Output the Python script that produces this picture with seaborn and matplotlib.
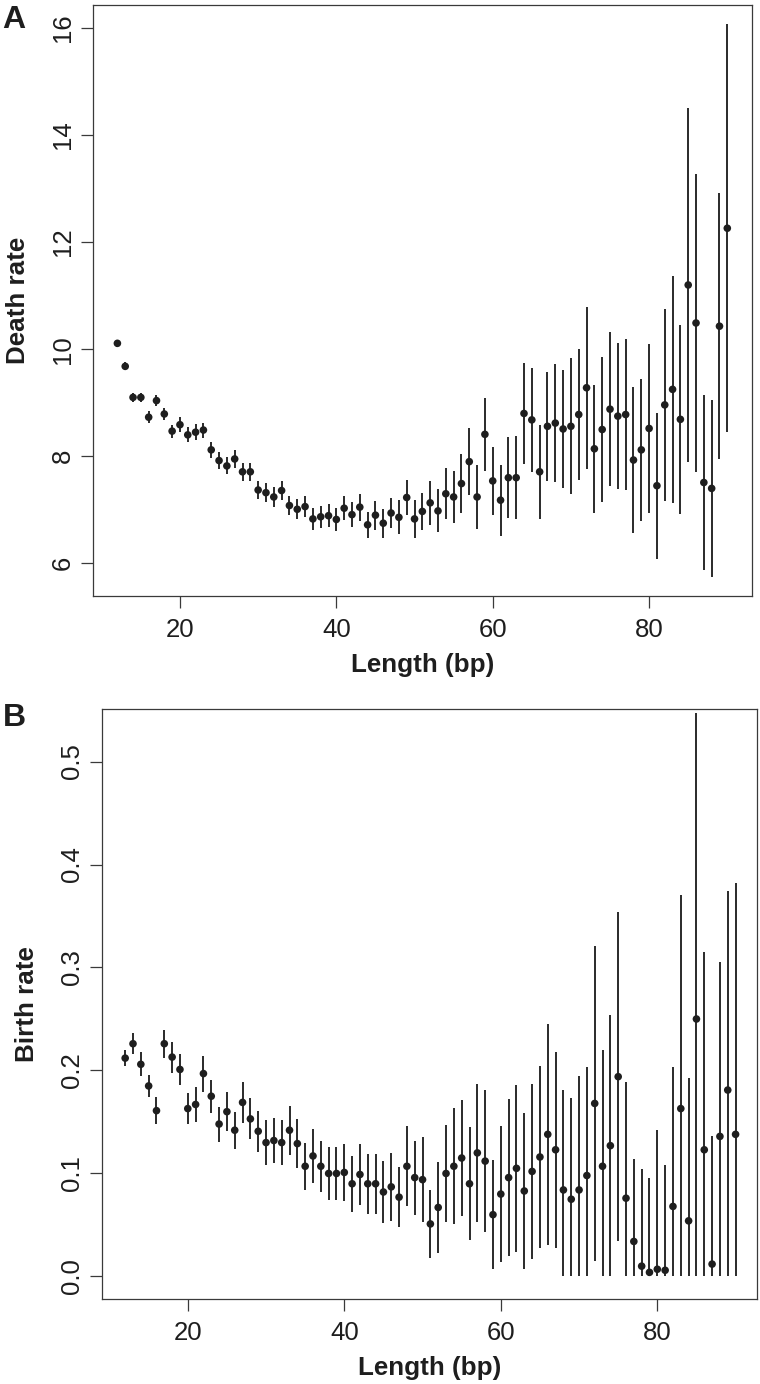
import numpy as np
import pandas as pd
import matplotlib
matplotlib.use("Agg")
import matplotlib.pyplot as plt
import seaborn as sns

# ---------------- data ----------------
length = list(range(12, 91))

death_rate = [10.11, 9.68, 9.10, 9.10, 8.73, 9.04, 8.79, 8.47, 8.59, 8.40,
              8.45, 8.49, 8.12, 7.92, 7.82, 7.95, 7.71, 7.71, 7.37, 7.32,
              7.24, 7.36, 7.08, 7.01, 7.06, 6.83, 6.87, 6.89, 6.82, 7.03,
              6.91, 7.05, 6.72, 6.90, 6.75, 6.94, 6.86, 7.23, 6.83, 6.97,
              7.13, 6.98, 7.30, 7.24, 7.49, 7.90, 7.24, 8.41, 7.54, 7.18,
              7.60, 7.60, 8.80, 8.68, 7.71, 8.56, 8.62, 8.51, 8.56, 8.78,
              9.28, 8.14, 8.50, 8.88, 8.75, 8.78, 7.93, 8.12, 8.52, 7.45,
              8.96, 9.25, 8.69, 11.20, 10.49, 7.51, 7.40, 10.43, 12.26]

death_err = [0.06, 0.075, 0.09, 0.09, 0.11, 0.11, 0.115, 0.12, 0.14, 0.14,
             0.15, 0.14, 0.15, 0.16, 0.16, 0.16, 0.17, 0.17, 0.175, 0.175,
             0.18, 0.18, 0.18, 0.19, 0.20, 0.20, 0.21, 0.21, 0.21, 0.22,
             0.24, 0.25, 0.24, 0.27, 0.27, 0.28, 0.32, 0.32, 0.35, 0.35,
             0.41, 0.40, 0.48, 0.48, 0.55, 0.62, 0.59, 0.68, 0.64, 0.66,
             0.76, 0.77, 0.95, 0.97, 0.88, 1.02, 1.10, 1.10, 1.27, 1.22,
             1.51, 1.20, 1.35, 1.44, 1.36, 1.41, 1.37, 1.33, 1.58, 1.36,
             1.79, 2.12, 1.76, 3.31, 2.79, 1.63, 1.65, 2.49, 3.81]

birth_rate = [0.212, 0.226, 0.206, 0.185, 0.161, 0.226, 0.213, 0.201, 0.163, 0.167,
              0.197, 0.175, 0.148, 0.160, 0.142, 0.169, 0.153, 0.141, 0.130, 0.132,
              0.130, 0.142, 0.129, 0.107, 0.117, 0.107, 0.100, 0.100, 0.101, 0.090,
              0.099, 0.090, 0.090, 0.082, 0.087, 0.077, 0.107, 0.096, 0.094, 0.051,
              0.067, 0.100, 0.107, 0.115, 0.090, 0.120, 0.112, 0.060, 0.080, 0.096,
              0.105, 0.083, 0.102, 0.116, 0.138, 0.123, 0.084, 0.075, 0.084, 0.098,
              0.168, 0.107, 0.127, 0.194, 0.076, 0.034, 0.010, 0.004, 0.007, 0.006,
              0.068, 0.163, 0.054, 0.250, 0.123, 0.012, 0.136, 0.181, 0.138]

birth_err = [0.0076, 0.010, 0.0115, 0.011, 0.0128, 0.0136, 0.015, 0.015, 0.015, 0.017,
             0.0175, 0.016, 0.017, 0.019, 0.018, 0.020, 0.020, 0.020, 0.022, 0.022,
             0.022, 0.024, 0.024, 0.023, 0.026, 0.025, 0.026, 0.026, 0.028, 0.027,
             0.030, 0.029, 0.029, 0.030, 0.033, 0.029, 0.039, 0.036, 0.041, 0.033,
             0.0445, 0.047, 0.0565, 0.056, 0.055, 0.067, 0.069, 0.053, 0.066, 0.076,
             0.081, 0.076, 0.085, 0.088, 0.107, 0.095, 0.097, 0.098, 0.111, 0.105,
             0.153, 0.113, 0.127, 0.160, 0.1125, 0.080, 0.0945, 0.092, 0.1355, 0.1026,
             0.135, 0.207, 0.139, 0.2976, 0.192, 0.124, 0.169, 0.1935, 0.2445]

x_ticks = [20, 40, 60, 80]
death_ticks = [6, 8, 10, 12, 14, 16]
birth_ticks = [0.0, 0.1, 0.2, 0.3, 0.4, 0.5]
birth_ticklabels = ["0.0", "0.1", "0.2", "0.3", "0.4", "0.5"]

# ---------------- style ----------------
sns.set_theme(style="ticks")
plt.rcParams["font.family"] = ["Liberation Sans", "DejaVu Sans"]

INK = "#1e1e1e"
BAR = "#2a2a2a"
SPINE = "#3a3a3a"

fig = plt.figure(figsize=(7.6, 13.84), dpi=100)
W, H = 760.0, 1384.0

def axes_px(left, right, top, bottom):
    return fig.add_axes([left / W, 1 - bottom / H, (right - left) / W, (bottom - top) / H])

ax1 = axes_px(93, 751.7, 5, 596)
ax2 = axes_px(101.7, 756.7, 709, 1298.5)

df_d = pd.DataFrame({"Length": length, "rate": death_rate, "err": death_err})
df_d["lo"] = df_d["rate"] - df_d["err"]
df_d["hi"] = df_d["rate"] + df_d["err"]

df_b = pd.DataFrame({"Length": length, "rate": birth_rate, "err": birth_err})
df_b["lo"] = (df_b["rate"] - df_b["err"]).clip(lower=0)
df_b["hi"] = df_b["rate"] + df_b["err"]

def panel(ax, df, ylabel, yticks, yticklabels, xlim, ylim, ylabelpad):
    ax.vlines(df["Length"], df["lo"], df["hi"], color=BAR, linewidth=1.4, zorder=2)
    sns.scatterplot(data=df, x="Length", y="rate", ax=ax, color=INK, s=30,
                    edgecolor="none", linewidth=0, zorder=3, legend=False)
    ax.set_xlim(*xlim)
    ax.set_ylim(*ylim)
    ax.set_xticks(x_ticks)
    ax.set_xticklabels([str(t) for t in x_ticks])
    ax.set_yticks(yticks)
    ax.set_yticklabels(yticklabels, rotation=90, va="center")
    for s in ax.spines.values():
        s.set_visible(True)
        s.set_linewidth(0.9)
        s.set_color(SPINE)
    ax.tick_params(axis="both", direction="out", length=8.6, width=0.9,
                   color=SPINE, labelsize=18.5, labelcolor=INK)
    ax.tick_params(axis="x", pad=7.5)
    ax.tick_params(axis="y", pad=4.5)
    ax.set_xlabel("Length (bp)", fontsize=18.7, fontweight="bold", color=INK, labelpad=8)
    ax.set_ylabel(ylabel, fontsize=18.7, fontweight="bold", color=INK, labelpad=ylabelpad)
    ax.grid(False)

panel(ax1, df_d, "Death rate", death_ticks, [str(t) for t in death_ticks],
      (8.88, 93.12), (5.39, 16.43), 15)
panel(ax2, df_b, "Birth rate", birth_ticks, birth_ticklabels,
      (9.0, 92.7), (-0.0214, 0.551), 15)

fig.text(2 / W, 1 - 5 / H, "A", fontsize=23, fontweight="bold", color=INK, va="top", ha="left")
fig.text(3 / W, 1 - 703 / H, "B", fontsize=23, fontweight="bold", color=INK, va="top", ha="left")

fig.savefig("out.png", dpi=100, facecolor="white")
